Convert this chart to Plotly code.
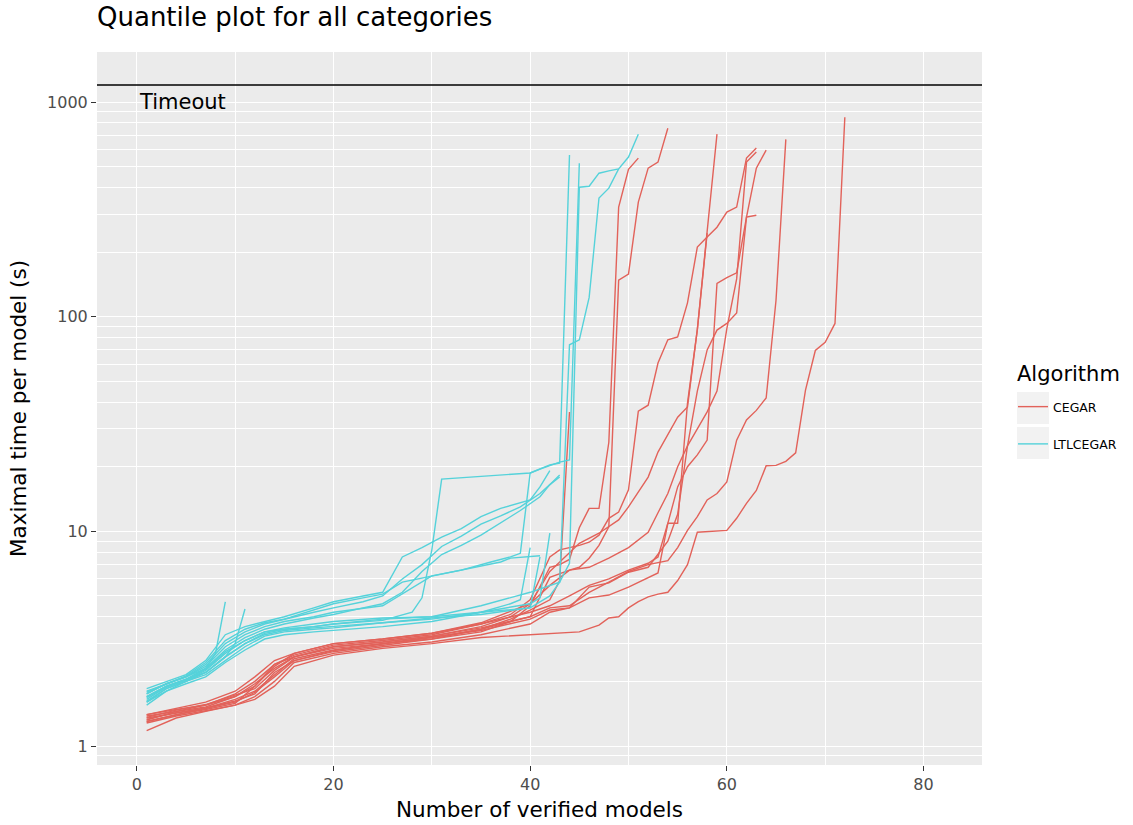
import plotly.graph_objects as go

# ---------------- data ----------------
ALGORITHMS = ["CEGAR", "LTLCEGAR"]
TIMEOUT = 1200
X_TICKS = [0, 20, 40, 60, 80]
Y_TICKS = [1, 10, 100, 1000]

# CEGAR quantile lines: (x = number of verified models, y = max time per model)
cegar_1_x = [1, 4, 7, 10, 12, 14, 16, 20, 25, 30, 35, 38, 40, 42, 43, 44]
cegar_1_y = [1.35, 1.42, 1.5, 1.62, 1.75, 2.2, 2.5, 2.75, 2.95, 3.15, 3.5, 3.9, 4.3, 4.8, 5.9, 36]
cegar_2_x = [1, 4, 7, 10, 12, 14, 16, 20, 25, 30, 35, 38, 40, 42, 43, 44, 45, 46, 47, 48, 49, 50, 51]
cegar_2_y = [1.3, 1.4, 1.48, 1.58, 1.9, 2.4, 2.6, 2.85, 3.0, 3.15, 3.4, 3.8, 4.5, 6.8, 7.0, 7.4, 10.4, 12.8, 12.8, 26, 324, 486, 548]
cegar_3_x = [1, 4, 7, 10, 12, 14, 16, 20, 25, 30, 35, 38, 40, 42, 44, 45, 46, 47, 48, 49, 50, 51, 52, 53, 54]
cegar_3_y = [1.38, 1.45, 1.52, 1.7, 1.95, 2.3, 2.6, 2.9, 3.05, 3.25, 3.6, 4.0, 4.6, 5.6, 6.6, 6.8, 7.5, 8.6, 10.5, 148, 158, 342, 492, 525, 755]
cegar_4_x = [1, 4, 7, 10, 12, 14, 16, 20, 25, 30, 35, 38, 40, 41, 42, 43, 45, 46, 47, 48, 49, 50, 51, 52, 53, 54, 55, 56, 57, 58, 59, 60, 61, 62, 63]
cegar_4_y = [1.32, 1.45, 1.55, 1.75, 2.0, 2.4, 2.65, 2.95, 3.1, 3.3, 3.7, 4.1, 4.8, 6.0, 7.6, 8.2, 8.6, 8.9, 9.6, 11.5, 12.3, 15.6, 36.3, 38.7, 60.8, 78, 80.5, 116, 211, 235, 261, 307, 324, 548, 610]
cegar_5_x = [1, 4, 7, 10, 12, 14, 16, 20, 25, 30, 35, 40, 42, 44, 46, 48, 50, 52, 53, 54, 55, 56, 57, 58, 59]
cegar_5_y = [1.4, 1.5, 1.6, 1.8, 2.1, 2.5, 2.7, 3.0, 3.15, 3.35, 3.7, 4.2, 4.5, 5.0, 5.6, 6.0, 6.6, 7.1, 7.6, 10.9, 10.9, 39.6, 87, 250, 709]
cegar_6_x = [1, 4, 7, 10, 12, 14, 16, 20, 25, 30, 35, 40, 42, 44, 46, 48, 50, 52, 53, 54, 55, 56, 57, 58, 59, 60, 61, 62, 63, 64]
cegar_6_y = [1.28, 1.38, 1.46, 1.55, 1.7, 2.0, 2.45, 2.7, 2.9, 3.05, 3.3, 3.7, 4.2, 4.4, 4.9, 5.05, 5.5, 6.1, 6.4, 10.9, 16.1, 20, 22.7, 26.6, 143, 152, 160, 291, 492, 597]
cegar_7_x = [1, 4, 7, 10, 12, 14, 16, 20, 25, 30, 35, 40, 42, 44, 46, 48, 50, 52, 54, 55, 56, 57, 58, 59, 60, 61, 62, 63]
cegar_7_y = [1.33, 1.43, 1.5, 1.65, 1.8, 2.15, 2.55, 2.8, 3.0, 3.2, 3.45, 3.9, 4.3, 4.4, 5.5, 5.75, 6.45, 6.8, 9.0, 12, 25, 45, 70, 86.6, 93, 104, 291, 297]
cegar_8_x = [1, 4, 7, 10, 12, 14, 16, 20, 25, 30, 35, 40, 42, 44, 46, 48, 50, 52, 54, 55, 56, 57, 58, 59, 60, 61, 62, 63, 64, 65, 66]
cegar_8_y = [1.36, 1.47, 1.56, 1.72, 1.85, 2.25, 2.6, 2.9, 3.05, 3.25, 3.55, 4.0, 4.4, 4.5, 5.2, 5.8, 6.5, 7.0, 7.3, 8.4, 10.1, 11.7, 14, 15, 17, 26.6, 33, 36.6, 41.8, 119, 670]
cegar_9_x = [1, 4, 7, 10, 12, 14, 16, 20, 25, 30, 35, 40, 45, 47, 48, 49, 50, 51, 52, 53, 54, 55, 56, 57, 60, 61, 62, 63, 64, 65, 66, 67, 68, 69, 70, 71, 72]
cegar_9_y = [1.18, 1.35, 1.45, 1.55, 1.65, 1.9, 2.35, 2.65, 2.85, 3.0, 3.2, 3.3, 3.4, 3.66, 3.95, 4.0, 4.4, 4.7, 4.95, 5.1, 5.2, 5.9, 7.0, 9.9, 10.1, 11.5, 13.5, 15.5, 20.2, 20.3, 21.2, 23.2, 45.5, 69.6, 76, 93, 850]
cegar_10_x = [1, 4, 7, 10, 12, 14, 16, 20, 25, 30, 35, 40, 42, 44, 46, 48, 50, 52, 53, 54, 55, 56, 57, 58, 59, 60, 61, 62, 63]
cegar_10_y = [1.3, 1.4, 1.5, 1.6, 1.78, 2.1, 2.5, 2.78, 2.98, 3.2, 3.5, 4.0, 6.1, 6.6, 6.8, 7.5, 8.4, 9.9, 12.2, 15, 20, 25, 30, 36, 45, 88, 150, 525, 585]
cegar_11_x = [1, 4, 7, 10, 12, 14, 16, 20, 25, 30, 35, 40, 42, 43, 45, 47, 49, 50, 52, 53, 55, 56, 57, 58]
cegar_11_y = [1.4, 1.48, 1.55, 1.7, 1.9, 2.35, 2.7, 3.0, 3.15, 3.35, 3.75, 4.6, 6.5, 7.2, 8.8, 9.8, 11.3, 13, 17.9, 23.4, 34, 38, 87, 245]

# LTLCEGAR quantile lines
ltl_1_x = [1, 3, 5, 7, 9, 11, 13, 15, 18, 20, 25, 28, 29, 30, 31, 35, 40, 42, 43, 44]
ltl_1_y = [1.7, 1.9, 2.05, 2.2, 2.6, 3.0, 3.35, 3.5, 3.6, 3.7, 3.85, 4.2, 4.9, 8.2, 17.5, 18.0, 18.7, 20.4, 20.8, 566]
ltl_2_x = [1, 3, 5, 7, 9, 11, 13, 15, 18, 20, 25, 30, 33, 36, 38, 39, 40, 41, 42, 43, 44, 45]
ltl_2_y = [1.8, 1.95, 2.1, 2.35, 2.9, 3.3, 3.6, 3.8, 4.0, 4.2, 4.5, 6.2, 6.6, 7.2, 7.6, 7.9, 18.7, 19.5, 20.2, 21.0, 21.5, 519]
ltl_3_x = [1, 3, 5, 7, 9, 11, 13, 15, 18, 20, 25, 30, 35, 40, 42, 43, 44, 45, 46, 47, 48, 49, 50, 51]
ltl_3_y = [1.6, 1.85, 2.0, 2.15, 2.5, 2.9, 3.25, 3.4, 3.5, 3.55, 3.75, 3.95, 4.1, 4.4, 5.0, 5.8, 7.1, 401, 405, 466, 478, 488, 554, 708]
ltl_4_x = [1, 3, 5, 7, 9, 11, 13, 15, 18, 20, 25, 30, 35, 40, 43, 44, 45, 46, 47, 48, 49]
ltl_4_y = [1.65, 1.88, 2.02, 2.25, 2.7, 3.1, 3.4, 3.55, 3.7, 3.8, 3.95, 4.0, 4.5, 5.2, 5.8, 74, 78, 123, 357, 397, 488]
ltl_5_x = [1, 3, 5, 7, 9, 11, 13, 15, 18, 20, 23, 25, 27, 29, 31, 33, 35, 37, 40, 41, 42]
ltl_5_y = [1.85, 2.0, 2.15, 2.5, 3.3, 3.6, 3.8, 4.0, 4.4, 4.7, 5.0, 5.2, 7.6, 8.4, 9.4, 10.3, 11.7, 12.8, 14.0, 16.1, 19.2]
ltl_6_x = [1, 3, 5, 7, 9, 11, 13, 15, 18, 20, 23, 25, 27, 29, 31, 33, 35, 37, 39, 41, 42, 43]
ltl_6_y = [1.75, 1.95, 2.1, 2.4, 3.0, 3.4, 3.7, 3.9, 4.2, 4.4, 4.7, 5.0, 6.0, 7.0, 8.5, 9.5, 10.8, 11.8, 13.0, 15.0, 16.5, 17.9]
ltl_7_x = [1, 3, 5, 7, 9, 11, 13, 15, 18, 20, 25, 30, 35, 38, 39, 40]
ltl_7_y = [1.55, 1.8, 1.95, 2.1, 2.45, 2.8, 3.15, 3.3, 3.4, 3.45, 3.6, 3.8, 4.2, 4.6, 4.8, 8.4]
ltl_8_x = [1, 3, 5, 7, 9, 11, 13, 15, 18, 20, 25, 30, 35, 40, 41, 42]
ltl_8_y = [1.62, 1.85, 2.0, 2.2, 2.6, 3.0, 3.3, 3.45, 3.55, 3.6, 3.75, 3.9, 4.2, 4.6, 4.9, 9.8]
ltl_9_x = [1, 3, 5, 7, 9, 11, 13, 15, 18, 20, 23, 25, 27, 29, 31, 33, 35, 37, 39, 41, 42, 43]
ltl_9_y = [1.7, 1.9, 2.05, 2.3, 2.8, 3.2, 3.5, 3.7, 3.95, 4.1, 4.4, 4.6, 5.2, 6.5, 7.8, 8.6, 9.6, 11.0, 12.5, 14.5, 16.5, 18.3]
ltl_10_x = [1, 3, 5, 7, 9, 11, 13, 15, 18, 20, 23, 25, 27, 30, 33, 37, 38, 40, 41]
ltl_10_y = [1.78, 1.95, 2.12, 2.45, 3.1, 3.5, 3.75, 3.9, 4.3, 4.6, 4.9, 5.1, 5.8, 6.2, 6.6, 7.2, 7.5, 7.6, 7.7]
ltl_11_x = [1, 3, 5, 7, 9, 11, 13, 15, 18, 20, 25, 30, 35, 40, 41]
ltl_11_y = [1.68, 1.88, 2.03, 2.28, 2.75, 3.1, 3.4, 3.5, 3.6, 3.7, 3.9, 4.0, 4.2, 4.4, 7.6]
ltl_12_x = [1, 3, 5, 7, 8, 9]
ltl_12_y = [1.75, 1.95, 2.1, 2.3, 2.7, 4.69]
ltl_13_x = [1, 3, 5, 7, 9, 10, 11]
ltl_13_y = [1.6, 1.8, 2.0, 2.2, 2.6, 3.0, 4.35]

CEGAR_LINES = [
    (cegar_1_x, cegar_1_y), (cegar_2_x, cegar_2_y), (cegar_3_x, cegar_3_y),
    (cegar_4_x, cegar_4_y), (cegar_5_x, cegar_5_y), (cegar_6_x, cegar_6_y),
    (cegar_7_x, cegar_7_y), (cegar_8_x, cegar_8_y), (cegar_9_x, cegar_9_y),
    (cegar_10_x, cegar_10_y), (cegar_11_x, cegar_11_y),
]
LTL_LINES = [
    (ltl_1_x, ltl_1_y), (ltl_2_x, ltl_2_y), (ltl_3_x, ltl_3_y), (ltl_4_x, ltl_4_y),
    (ltl_5_x, ltl_5_y), (ltl_6_x, ltl_6_y), (ltl_7_x, ltl_7_y), (ltl_8_x, ltl_8_y),
    (ltl_9_x, ltl_9_y), (ltl_10_x, ltl_10_y), (ltl_11_x, ltl_11_y),
    (ltl_12_x, ltl_12_y), (ltl_13_x, ltl_13_y),
]

# ---------------- styling ----------------
COLORS = {"CEGAR": "#E2625A", "LTLCEGAR": "#55D2DA"}
FONT = "DejaVu Sans"
W, H = 1133, 825
ML, MR, MT, MB = 97, 151, 52, 60
PW, PH = W - ML - MR, H - MT - MB


def px_to_paper_x(px):
    return (px - ML) / PW


def px_to_paper_y(py):
    return 1 - (py - MT) / PH


fig = go.Figure()

for algo, lines in (("CEGAR", CEGAR_LINES), ("LTLCEGAR", LTL_LINES)):
    for i, (xs, ys) in enumerate(lines):
        fig.add_trace(go.Scatter(
            x=xs, y=ys, mode="lines", name=algo, legendgroup=algo,
            showlegend=(i == 0),
            line=dict(color=COLORS[algo], width=1.4),
            hoverinfo="skip",
        ))

minor_y = [m * 10 ** k for k in range(-1, 4) for m in range(2, 10)] + [0.9]
minor_y = [v for v in minor_y if 0.8 < v < 1800 and v not in Y_TICKS]

fig.update_layout(
    width=W, height=H,
    margin=dict(l=ML, r=MR, t=MT, b=MB, autoexpand=False),
    paper_bgcolor="white",
    plot_bgcolor="#EBEBEB",
    font=dict(family=FONT, color="#000000"),
    title=dict(text="Quantile plot for all categories", x=ML / W, xanchor="left",
               y=1 - 17 / H, yanchor="middle", font=dict(size=26, color="black")),
    showlegend=True,
    legend=dict(
        font=dict(size=12.5, color="black"),
        x=px_to_paper_x(1013), xanchor="left", y=px_to_paper_y(392), yanchor="top",
        bgcolor="rgba(0,0,0,0)", tracegroupgap=18, itemwidth=30,
    ),
    xaxis=dict(
        range=[-4.05, 85.95], tickvals=X_TICKS, ticks="outside", ticklen=5,
        tickcolor="#333333", tickwidth=1, showline=False, zeroline=False,
        gridcolor="white", gridwidth=1.1, automargin=False,
        tickfont=dict(size=16, color="#4D4D4D"),
        minor=dict(tickvals=[10, 30, 50, 70], showgrid=True, gridcolor="white", gridwidth=0.55, ticks=""),
        title=dict(text="Number of verified models", font=dict(size=21.5, color="black"), standoff=8),
    ),
    yaxis=dict(
        type="log", range=[-0.0885, 3.233], tickvals=Y_TICKS,
        ticktext=[str(v) for v in Y_TICKS], ticks="outside", ticklen=5,
        tickcolor="#333333", tickwidth=1, showline=False, zeroline=False,
        gridcolor="white", gridwidth=1.1, automargin=False,
        tickfont=dict(size=16, color="#4D4D4D"),
        minor=dict(tickvals=minor_y, showgrid=True, gridcolor="white", gridwidth=0.55, ticks=""),
        title=dict(text="Maximal time per model (s)", font=dict(size=21.5, color="black"), standoff=14),
    ),
)

# legend title (ggplot style) and grey key boxes
fig.add_annotation(x=px_to_paper_x(1015), y=px_to_paper_y(374), xref="paper", yref="paper",
                   text="Algorithm", showarrow=False, xanchor="left", yanchor="middle",
                   font=dict(size=21, color="black"))
for top, bottom in ((392, 424), (427, 459)):
    fig.add_shape(type="rect", xref="paper", yref="paper",
                  x0=px_to_paper_x(1017), x1=px_to_paper_x(1049),
                  y0=px_to_paper_y(bottom), y1=px_to_paper_y(top),
                  fillcolor="#F2F2F2", line=dict(width=0), layer="below")

# timeout line and label
fig.add_shape(type="line", xref="paper", x0=0, x1=1, yref="y",
              y0=TIMEOUT, y1=TIMEOUT,
              line=dict(color="black", width=1.4), layer="above")
fig.add_annotation(x=0, y=3, xref="x", yref="y", text="Timeout",
                   showarrow=False, xanchor="left", yanchor="middle",
                   font=dict(size=21, color="black"))

fig.write_html("out.html")
